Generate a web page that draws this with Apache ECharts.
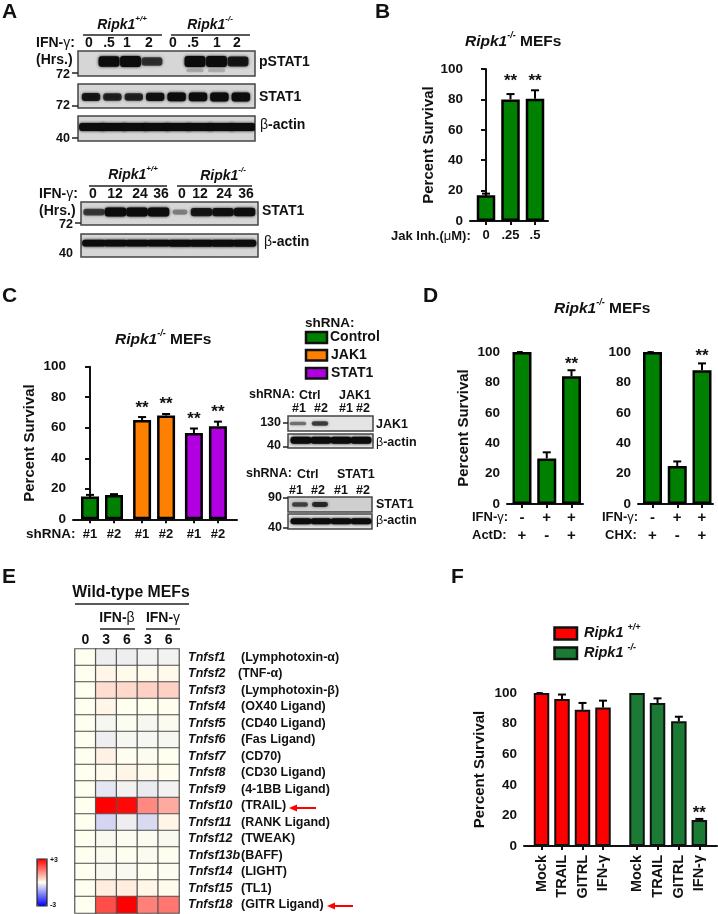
<!DOCTYPE html>
<html><head><meta charset="utf-8">
<style>html,body{margin:0;padding:0;background:#fff}#c{width:718px;height:914px}</style>
<script src="https://cdn.jsdelivr.net/npm/echarts@6/dist/echarts.min.js"></script>
</head><body><div id="c"></div>
<script>
// ---------- data ----------
const bLabels = ['0', '.25', '.5'];
const bValues = [17, 80, 80.5];
const bErrors = [1, 3.5, 5.5];
const bStars = [null, 94.7, 94.7];

const cLabels = ['#1', '#2', '#1', '#2', '#1', '#2'];
const cValues = [15, 16, 65, 68, 56.5, 61];
const cErrors = [1, 0.5, 2, 1, 3, 3];
const cStars = [null, null, 75.5, 78, 68, 73];

const dLabels1 = ['-\n+', '+\n-', '+\n+'];
const dValues1 = [100, 30, 84];
const dErrors1 = [0, 4, 4];
const dStars1 = [null, null, 94.3];
const dValues2 = [100, 25, 88];
const dErrors2 = [0, 3, 4.5];
const dStars2 = [null, null, 100];

const fLabels = ['Mock', 'TRAIL', 'GITRL', 'IFN-γ', 'Mock', 'TRAIL', 'GITRL', 'IFN-γ'];
const fValues = [100, 96, 89, 90.5, 100, 93.5, 81.5, 17];
const fErrors = [0, 3, 4.5, 4.5, 0, 3, 3, 0.7];
const fStars = [null, null, null, null, null, null, null, 24];

const heatColumns = ['0', '3', '6', '3', '6'];
const heatGenes = ['Tnfsf1','Tnfsf2','Tnfsf3','Tnfsf4','Tnfsf5','Tnfsf6','Tnfsf7','Tnfsf8','Tnfsf9','Tnfsf10','Tnfsf11','Tnfsf12','Tnfsf13b','Tnfsf14','Tnfsf15','Tnfsf18'];
const heatNames = ['(Lymphotoxin-α)','(TNF-α)','(Lymphotoxin-β)','(OX40 Ligand)','(CD40 Ligand)','(Fas Ligand)','(CD70)','(CD30 Ligand)','(4-1BB Ligand)','(TRAIL)','(RANK Ligand)','(TWEAK)','(BAFF)','(LIGHT)','(TL1)','(GITR Ligand)'];
const heatValues = [
 [0,-.2,-.2,-.15,-.15],
 [0,.1,.05,.03,.06],
 [0,.4,.45,.55,.55],
 [0,.1,0,0,.02],
 [0,-.1,-.03,-.1,-.05],
 [0,-.2,-.1,-.1,-.1],
 [0,.15,-.02,-.03,0],
 [0,.05,.12,.05,.02],
 [0,-.3,-.15,-.25,-.15],
 [0,3,2.9,1.4,1],
 [0,-.5,-.2,-.45,.1],
 [0,-.07,-.03,-.05,-.07],
 [0,-.05,-.02,-.05,-.02],
 [0,-.07,-.07,-.02,-.04],
 [0,.2,.2,.1,.05],
 [0,2.1,3,1.5,1.6]
];

// blot band intensities per lane
const pstat1Bands = [0,.95,1,.6,0,1,1,.8];
const pstat1Smear = [0,0,0,0,0,.3,.25,0];
const stat1Bands = [.8,.7,.7,.85,.95,.95,1,1];
const actinBands = [1,1,1,1,1,1,1,1];
const stat1LongBands = [.55,1,1,1,.2,.8,.85,.9];
const actinLongBands = [.95,.96,.96,.95,1,1,.97,.97];
const jak1Bands = [.3,.55,0,0];
const actinSmallBands = [1,1,1,1];
const stat1SmallBands = [.5,.65,0,0];

// ---------- helpers ----------
const FONT = '"Liberation Sans", Arial, sans-serif';
const INK = '#111';
const GREEN = '#008000', ORANGE = '#ff8000', PURPLE = '#b000e0', RED = '#ff0000', DGREEN = '#1b7a33';
const grid = [], xAxis = [], yAxis = [], series = [], els = [];

function richStyles(fs) {
  return {
    i: {fontFamily: FONT, fontStyle: 'italic', fontWeight: 'bold', fontSize: fs, fill: INK, lineHeight: fs + 6},
    b: {fontFamily: FONT, fontWeight: 'bold', fontSize: fs, fill: INK, lineHeight: fs + 6},
    s: {fontFamily: FONT, fontStyle: 'italic', fontWeight: 'bold', fontSize: Math.round(fs * .6), fill: INK, verticalAlign: 'top', lineHeight: fs + 2},
    g: {fontFamily: FONT, fontWeight: 'normal', fontSize: fs, fill: INK, lineHeight: fs + 6}
  };
}
function txt(x, y, text, o) {
  o = o || {};
  const fs = o.size || 13;
  els.push({type: 'text', z: 50, style: {
    x, y, text, fontFamily: FONT, fontSize: fs, fontWeight: o.weight || 'bold', fontStyle: o.italic ? 'italic' : 'normal',
    fill: o.fill || INK, textAlign: o.align || 'left', textVerticalAlign: 'middle', rich: richStyles(fs)
  }});
}
function seg(x1, y1, x2, y2, w, c) {
  els.push({type: 'line', z: 50, shape: {x1, y1, x2, y2}, style: {stroke: c || '#222', lineWidth: w || 1.5}});
}
function swatch(x, y, w, h, color) {
  els.push({type: 'rect', z: 50, shape: {x, y, width: w, height: h}, style: {fill: color, stroke: '#111', lineWidth: 2.5}});
}
function arrow(x1, x2, y) {
  seg(x1, y, x2 + 6, y, 2, RED);
  els.push({type: 'polygon', z: 50, shape: {points: [[x2, y], [x2 + 8, y - 3.5], [x2 + 8, y + 3.5]]}, style: {fill: RED}});
}

function barPanel(c) {
  const g = grid.length;
  const slots = c.slots;
  const toName = v => { const k = slots.findIndex(s => Math.abs(s - v) < 1e-6); return k < 0 ? '' : c.labels[k]; };
  grid.push({left: c.x0, top: c.yTop, width: c.x1 - c.x0, height: c.yBot - c.yTop});
  xAxis.push({
    gridIndex: g, type: 'value', min: -(c.c0 - c.x0) / c.step, max: (c.x1 - c.c0) / c.step,
    splitLine: {show: false},
    axisLine: {show: true, onZero: false, lineStyle: {color: INK, width: 2}},
    axisTick: {show: true, length: 4, customValues: slots, lineStyle: {color: INK, width: 2}},
    axisLabel: Object.assign({
      show: true, customValues: slots, formatter: toName, color: INK, fontFamily: FONT, fontWeight: 'bold', fontSize: 13, margin: c.labelMargin || 6, hideOverlap: false
    }, c.labelExtra || {})
  });
  yAxis.push({
    gridIndex: g, type: 'value', min: 0, max: 100, interval: 20,
    splitLine: {show: false},
    axisLine: {show: true, lineStyle: {color: INK, width: 2}},
    axisTick: {show: true, length: 5, lineStyle: {color: INK, width: 2}},
    axisLabel: {color: INK, fontFamily: FONT, fontWeight: 'bold', fontSize: 13.5, margin: 7},
    name: c.noName ? '' : 'Percent Survival', nameLocation: 'middle', nameRotate: 90, nameGap: c.nameGap || 34,
    nameTextStyle: {color: INK, fontFamily: FONT, fontWeight: 'bold', fontSize: 15}
  });
  const colors = c.colors;
  series.push({
    type: 'bar', xAxisIndex: g, yAxisIndex: g, barWidth: c.barW, clip: false, z: 3,
    data: c.values.map((v, i) => [slots[i], v]),
    itemStyle: {color: p => colors[p.dataIndex], borderColor: c.border || '#000', borderWidth: c.borderW || 2.5}
  });
  series.push({
    type: 'custom', xAxisIndex: g, yAxisIndex: g, clip: false, z: 4,
    encode: {x: 0, y: 1},
    data: c.values.map((v, i) => [slots[i], v, c.errors[i], c.stars[i] == null ? -1 : c.stars[i]]),
    renderItem: (params, api) => {
      const x = api.value(0), v = api.value(1), e = api.value(2), s = api.value(3);
      const children = [];
      if (e > 0) {
        const a = api.coord([x, v]), b = api.coord([x, v + e]);
        children.push({type: 'line', shape: {x1: a[0], y1: a[1], x2: b[0], y2: b[1]}, style: {stroke: '#000', lineWidth: 2}});
        children.push({type: 'line', shape: {x1: b[0] - 4, y1: b[1], x2: b[0] + 4, y2: b[1]}, style: {stroke: '#000', lineWidth: 2}});
      }
      if (s >= 0) {
        const p = api.coord([x, s]);
        children.push({type: 'text', x: p[0], y: p[1] + 4, style: {text: '**', fontFamily: FONT, fontWeight: 'bold', fontSize: 17, fill: INK, textAlign: 'center', textVerticalAlign: 'middle'}});
      }
      return {type: 'group', children};
    }
  });
}

function blot(b, values, extra) {
  const g = grid.length;
  grid.push({show: true, left: b.x0, top: b.y0, width: b.x1 - b.x0, height: b.y1 - b.y0,
    backgroundColor: b.bg || '#d6d6d6', borderColor: '#444', borderWidth: 1.5});
  xAxis.push({gridIndex: g, show: false, type: 'value', min: (b.x0 - b.first) / b.step, max: (b.x1 - b.first) / b.step});
  yAxis.push({gridIndex: g, show: false, type: 'value', min: 0, max: 1});
  const layer = (vals, yc, hPx, wFrac, alphaK) => series.push({
    type: 'custom', xAxisIndex: g, yAxisIndex: g, clip: true, z: 5, encode: {x: 0, y: 1},
    data: vals.map((v, i) => [i, yc, v]).filter(d => d[2] > 0),
    renderItem: (params, api) => {
      const v = api.value(2), p = api.coord([api.value(0), api.value(1)]);
      const w = api.size([1, 0])[0] * wFrac * (v < .25 ? .7 : 1);
      const h = hPx * (.45 + .55 * v);
      const a = Math.min(1, (.2 + .85 * v) * alphaK);
      const col = 'rgba(12,12,12,' + a + ')';
      return {type: 'rect', shape: {x: p[0] - w / 2, y: p[1] - h / 2, width: w, height: h, r: Math.min(3, h / 2)},
        style: {fill: col, shadowBlur: 3, shadowColor: col}};
    }
  });
  layer(values, b.yc == null ? .5 : b.yc, b.h || 9, b.w || .82, 1);
  if (extra) layer(extra, .22, 6, .8, .45);
}

// ---------- panel letters ----------
txt(2, 12, 'A', {size: 21}); txt(375, 12, 'B', {size: 21});
txt(2, 296, 'C', {size: 21}); txt(423, 296, 'D', {size: 21});
txt(2, 577, 'E', {size: 21}); txt(451, 577, 'F', {size: 21});

// ---------- panel A ----------
txt(122, 25, '{i|Ripk1}{s|+/+}', {size: 14, align: 'center'}); seg(83, 35, 162, 35);
txt(210, 25, '{i|Ripk1}{s|-/-}', {size: 14, align: 'center'}); seg(171, 35, 250, 35);
txt(36, 43, 'IFN-{g|γ}:', {size: 14});
[[89,'0'],[109,'.5'],[127,'1'],[149,'2'],[173,'0'],[193,'.5'],[217,'1'],[237,'2']].forEach(d => txt(d[0], 43, d[1], {size: 14, align: 'center'}));
txt(36, 60, '(Hrs.)', {size: 14});
blot({x0: 78, x1: 255, y0: 51, y1: 76, first: 87.5, step: 21.5, yc: .58, h: 11, w: .97}, pstat1Bands, pstat1Smear);
txt(259, 62, 'pSTAT1', {size: 14});
txt(70, 75, '72', {align: 'right', size: 12.5}); seg(72, 73, 78, 73, 1.5);
blot({x0: 78, x1: 255, y0: 84, y1: 108, first: 91, step: 21.4, yc: .46, h: 9, w: .86}, stat1Bands);
txt(259, 97, 'STAT1', {size: 14});
txt(70, 106, '72', {align: 'right', size: 12.5}); seg(72, 106, 78, 106, 1.5);
blot({x0: 78, x1: 255, y0: 116, y1: 141, first: 92, step: 21.5, yc: .56, h: 8, w: 1.2}, actinBands);
txt(260, 125, '{g|β}-actin', {size: 14});
txt(70, 139, '40', {align: 'right', size: 12.5}); seg(72, 138, 78, 138, 1.5);

txt(133, 175, '{i|Ripk1}{s|+/+}', {size: 14, align: 'center'}); seg(89, 186, 167, 186);
txt(223, 176, '{i|Ripk1}{s|-/-}', {size: 14, align: 'center'}); seg(177, 186, 252, 186);
txt(39, 194, 'IFN-{g|γ}:', {size: 14});
[[93,'0'],[115,'12'],[140,'24'],[161,'36'],[182,'0'],[200,'12'],[224,'24'],[246,'36']].forEach(d => txt(d[0], 194, d[1], {size: 14, align: 'center'}));
txt(39, 211, '(Hrs.)', {size: 14});
blot({x0: 81, x1: 258, y0: 202, y1: 225, first: 94, step: 21.5, yc: .56, h: 9, w: 1}, stat1LongBands);
txt(262, 211, 'STAT1', {size: 14});
txt(73, 225, '72', {align: 'right', size: 12.5}); seg(75, 223, 81, 223, 1.5);
blot({x0: 81, x1: 258, y0: 234, y1: 257, first: 94, step: 21.5, yc: .6, h: 7, w: 1.1}, actinLongBands);
txt(264, 242, '{g|β}-actin', {size: 14});
txt(73, 254, '40', {align: 'right', size: 12.5});

// ---------- panel B ----------
txt(465, 42, '{i|Ripk1}{s|-/-}{b| MEFs}', {size: 15.5});
barPanel({x0: 470, x1: 548, yTop: 69, yBot: 221, c0: 486, step: 24.5, slots: [0, 1, 2],
  barW: 18.5, labels: bLabels, values: bValues, errors: bErrors, stars: bStars, colors: [GREEN, GREEN, GREEN], labelMargin: 8, nameGap: 34});
txt(391, 236, 'Jak Inh.({g|μ}M):', {size: 13});

// ---------- panel C ----------
txt(115, 340, '{i|Ripk1}{s|-/-}{b| MEFs}', {size: 15.5});
barPanel({x0: 73, x1: 237, yTop: 366.7, yBot: 519.3, c0: 90, step: 24, slots: [0, 1, 2.17, 3.17, 4.33, 5.33],
  barW: 18, labels: cLabels, values: cValues, errors: cErrors, stars: cStars,
  colors: [GREEN, GREEN, ORANGE, ORANGE, PURPLE, PURPLE], labelMargin: 8.5, nameGap: 36});
txt(26, 534, 'shRNA:', {size: 13.5});

txt(305, 323, 'shRNA:', {size: 13.5});
swatch(306, 332, 21, 11, GREEN); txt(330, 337.5, 'Control', {size: 14});
swatch(306, 350, 21, 10.5, ORANGE); txt(331, 355.5, 'JAK1', {size: 14});
swatch(306, 368, 21, 10.5, PURPLE); txt(331, 373.5, 'STAT1', {size: 14});

txt(249, 395, 'shRNA:', {size: 12.5}); txt(299, 396, 'Ctrl', {size: 12.5}); txt(339, 396, 'JAK1', {size: 12.5});
[[299,'#1'],[321,'#2'],[346,'#1'],[363,'#2']].forEach(d => txt(d[0], 409, d[1], {size: 12.5, align: 'center'}));
blot({x0: 288, x1: 373, y0: 416, y1: 431, first: 298, step: 22, bg: '#e4e4e4', h: 6, w: .75}, jak1Bands);
txt(376, 425, 'JAK1', {size: 12.5});
txt(281, 423, '130', {align: 'right', size: 12.5}); seg(283, 423, 288, 423, 1.5);
blot({x0: 288, x1: 373, y0: 434, y1: 448, first: 301, step: 20, bg: '#e4e4e4', h: 7, w: 1.05, yc: .55}, actinSmallBands);
txt(376, 443, '{g|β}-actin', {size: 12.5});
txt(281, 446, '40', {align: 'right', size: 12.5}); seg(283, 447, 288, 447, 1.5);

txt(246, 474, 'shRNA:', {size: 12.5}); txt(297, 475, 'Ctrl', {size: 12.5}); txt(337, 475, 'STAT1', {size: 12.5});
[[296,'#1'],[318,'#2'],[341,'#1'],[363,'#2']].forEach(d => txt(d[0], 491, d[1], {size: 12.5, align: 'center'}));
blot({x0: 288, x1: 372, y0: 497, y1: 512, first: 300, step: 20, bg: '#cfcfcf', h: 6, w: .8, yc: .5}, stat1SmallBands);
txt(376, 505, 'STAT1', {size: 12.5});
txt(282, 498, '90', {align: 'right', size: 12.5}); seg(283, 498, 288, 498, 1.5);
blot({x0: 288, x1: 372, y0: 514, y1: 529, first: 301, step: 20, bg: '#e4e4e4', h: 6, w: 1.05, yc: .52}, actinSmallBands);
txt(376, 521, '{g|β}-actin', {size: 12.5});
txt(282, 528, '40', {align: 'right', size: 12.5}); seg(283, 528, 288, 528, 1.5);

// ---------- panel D ----------
txt(554, 309, '{i|Ripk1}{s|-/-}{b| MEFs}', {size: 15.5});
const dLabelExtra = {fontSize: 15, lineHeight: 18, margin: 5};
barPanel({x0: 507, x1: 583, yTop: 352, yBot: 504, c0: 522, step: 24.75, slots: [0, 1, 2], barW: 19,
  labels: dLabels1, values: dValues1, errors: dErrors1, stars: dStars1, colors: [GREEN, GREEN, GREEN], labelExtra: dLabelExtra, nameGap: 36});
barPanel({x0: 638, x1: 713, yTop: 352, yBot: 504, c0: 652.5, step: 24.75, slots: [0, 1, 2], barW: 19,
  labels: dLabels1, values: dValues2, errors: dErrors2, stars: dStars2, colors: [GREEN, GREEN, GREEN], labelExtra: dLabelExtra, noName: true});
txt(472, 517, 'IFN-{g|γ}:', {size: 13}); txt(472, 535, 'ActD:', {size: 13});
txt(602, 517, 'IFN-{g|γ}:', {size: 13}); txt(605, 535, 'CHX:', {size: 13});

// ---------- panel E ----------
txt(131, 593, 'Wild-type MEFs', {size: 15.8, align: 'center'}); seg(75, 604, 189, 604);
txt(117, 618, 'IFN-{g|β}', {size: 14, align: 'center'}); seg(100, 629, 135, 629);
txt(163, 618, 'IFN-{g|γ}', {size: 14, align: 'center'}); seg(146, 629, 180, 629);
const gE = grid.length;
grid.push({left: 75, top: 649, width: 104, height: 264});
xAxis.push({gridIndex: gE, type: 'category', position: 'top', data: heatColumns.map((c, i) => ({value: c + '_' + i})),
  axisLine: {show: false}, axisTick: {show: false}, splitArea: {show: false},
  axisLabel: {formatter: v => v.split('_')[0], color: INK, fontFamily: FONT, fontWeight: 'bold', fontSize: 14, margin: 2, interval: 0}});
yAxis.push({gridIndex: gE, type: 'category', inverse: true, position: 'right', data: heatGenes,
  axisLine: {show: false}, axisTick: {show: false}, splitArea: {show: false},
  axisLabel: {interval: 0, margin: 9, align: 'left', color: INK,
    formatter: (v, i) => '{' + (v === 'Tnfsf2' ? 'a2' : 'a') + '|' + v + '}{b|' + heatNames[i] + '}',
    rich: {
      a: {fontFamily: FONT, fontStyle: 'italic', fontWeight: 'bold', fontSize: 12.5, width: 53, color: INK},
      a2: {fontFamily: FONT, fontStyle: 'italic', fontWeight: 'bold', fontSize: 12.5, width: 50, color: INK},
      b: {fontFamily: FONT, fontWeight: 'bold', fontSize: 12.5, color: INK}
    }}});
const heatSeriesIndex = series.length;
series.push({type: 'heatmap', xAxisIndex: gE, yAxisIndex: gE, z: 3,
  data: heatValues.flatMap((row, r) => row.map((v, c) => [c, r, v])),
  itemStyle: {borderColor: '#555', borderWidth: 1.2}, emphasis: {disabled: true}});
els.push({type: 'rect', z: 50, shape: {x: 37, y: 859, width: 10, height: 47}, style: {fill: 'none', stroke: '#222', lineWidth: 1.2}});
txt(50, 860, '+3', {size: 7}); txt(50, 905, '-3', {size: 7});
arrow(316, 289, 808); arrow(353, 327, 906);

// ---------- panel F ----------
swatch(554.5, 627.5, 22.5, 12, RED); txt(584, 633, '{i|Ripk1 }{s|+/+}', {size: 14.5});
swatch(554.5, 647.5, 22.5, 11.5, DGREEN); txt(584, 653, '{i|Ripk1 }{s|-/-}', {size: 14.5});
barPanel({x0: 524, x1: 717, yTop: 693, yBot: 846, c0: 541.5, step: 20.5, slots: [0, 1, 2, 3, 4.66, 5.66, 6.7, 7.7], barW: 15.5,
  labels: fLabels, values: fValues, errors: fErrors, stars: fStars,
  colors: [RED, RED, RED, RED, DGREEN, DGREEN, DGREEN, DGREEN], borderW: 2, border: '#111', nameGap: 37,
  labelExtra: {rotate: 90, fontSize: 14.5, margin: 9}});

// ---------- chart ----------
const chart = echarts.init(document.getElementById('c'), null, {renderer: 'canvas', width: 718, height: 914});
chart.setOption({
  animation: false, backgroundColor: '#fff', textStyle: {fontFamily: FONT},
  grid, xAxis, yAxis, series,
  visualMap: [{type: 'continuous', seriesIndex: heatSeriesIndex, min: -3, max: 3, calculable: false, show: true,
    orient: 'vertical', left: 37, top: 859, itemWidth: 10, itemHeight: 47, padding: 0, text: null, showLabel: false,
    inRange: {color: ['#0000ff', '#fffff0', '#ff0000']}, textStyle: {color: 'transparent', fontSize: 1}}],
  graphic: {elements: els}
});
</script></body></html>
